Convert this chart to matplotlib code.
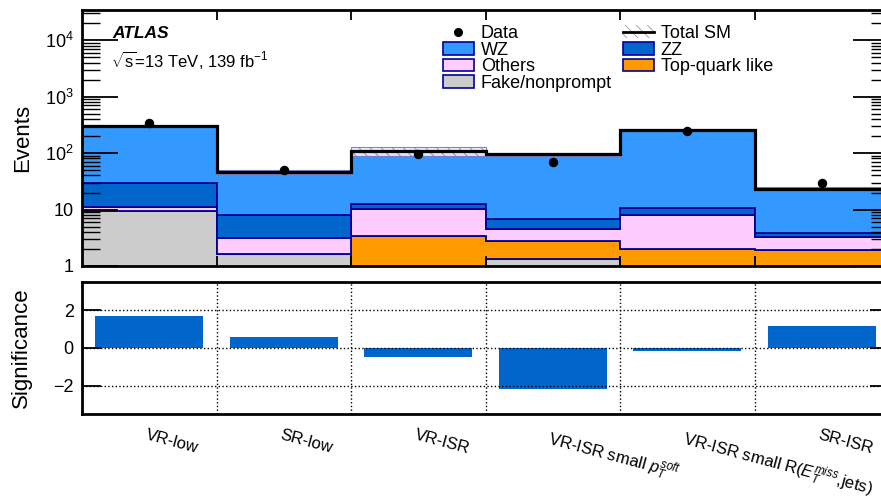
import numpy as np
import matplotlib
matplotlib.use("Agg")
from matplotlib import pyplot as plt
from matplotlib.patches import Patch
from matplotlib.lines import Line2D
from matplotlib.ticker import FixedLocator, LogLocator, NullFormatter

plt.rcParams['font.family'] = ['Liberation Sans', 'DejaVu Sans']
plt.rcParams['mathtext.fontset'] = 'custom'
plt.rcParams['mathtext.rm'] = 'Liberation Sans'
plt.rcParams['mathtext.it'] = 'Liberation Sans:italic'
plt.rcParams['mathtext.bf'] = 'Liberation Sans:bold'

regions = ["VR-low", "SR-low", "VR-ISR", r"VR-ISR small $p_T^{soft}$",
           r"VR-ISR small R($E_T^{miss}$,jets)", "SR-ISR"]

fake = [9.4, 1.63, 0.0, 1.33, 0.0, 0.0]
topq = [0.0, 0.0, 3.4, 1.44, 1.97, 1.92]
others = [1.8, 1.5, 6.8, 1.73, 6.0, 1.35]
zz = [17.9, 4.9, 2.3, 2.3, 2.8, 0.53]
wz = [271.0, 38.0, 95.5, 89.0, 244.0, 19.2]
unc = [0.05, 0.07, 0.18, 0.06, 0.05, 0.07]
data = [340, 50, 96, 70, 248, 29.4]
signif = [1.71, 0.56, -0.47, -2.15, -0.16, 1.19]

c_wz = '#3399ff'
c_zz = '#0066cc'
c_oth = '#ffccff'
c_fake = '#cccccc'
c_top = '#ff9900'
c_edge = '#000099'

edges = np.arange(len(regions) + 1)
centers = edges[:-1] + 0.5

fig = plt.figure(figsize=(8.81, 5.03), dpi=100)
W, H = 881.0, 503.0
ax = fig.add_axes([82 / W, 1 - 266 / H, 807 / W, 256 / H])
ax2 = fig.add_axes([82 / W, 1 - 414 / H, 807 / W, 132 / H])

# stack, bottom to top
comps = [(fake, c_fake), (topq, c_top), (others, c_oth), (zz, c_zz), (wz, c_wz)]
low = np.zeros(len(regions))
for vals, col in comps:
    high = low + np.array(vals)
    ax.stairs(high, edges, baseline=np.maximum(low, 0.1), fill=True,
              facecolor=col, edgecolor=c_edge, linewidth=1.3)
    low = high
total = low

band_up = total * (1 + np.array(unc))
band_dn = total * (1 - np.array(unc))
plt.rcParams['hatch.linewidth'] = 0.6
ax.stairs(band_up, edges, baseline=band_dn, fill=True, facecolor='#eeeeff',
          edgecolor='#7777bb', hatch='\\\\\\', linewidth=0.8, alpha=0.9)
ax.stairs(total, edges, baseline=None, color='black', linewidth=2.3)
ax.plot(centers, data, 'o', color='black', markersize=5.8)

ax.set_yscale('log')
ax.set_ylim(1, 3.4e4)
ax.set_xlim(0, len(regions))
ax.yaxis.set_major_locator(FixedLocator([1, 10, 100, 1000, 10000]))
ax.set_yticklabels(['1', '10', '$10^{2}$', '$10^{3}$', '$10^{4}$'])
ax.yaxis.set_minor_locator(LogLocator(base=10, subs=np.arange(2, 10)))
ax.yaxis.set_minor_formatter(NullFormatter())
ax.set_xticks(edges[1:-1])
ax.set_xticklabels([])
ax.tick_params(axis='y', which='major', direction='in', length=26, width=1.3,
               right=True, labelsize=13, pad=6)
ax.tick_params(axis='y', which='minor', direction='in', length=13, width=1.0,
               right=True)
ax.tick_params(axis='x', direction='in', length=7, width=1.3, top=True)
for s in ax.spines.values():
    s.set_linewidth(2)
ax.set_ylabel('Events', fontsize=16)
ax.yaxis.set_label_coords(-0.061, 0.5)

ax.text(112 / W, 1 - 33 / H, 'ATLAS', transform=fig.transFigure, fontsize=12.5,
        fontweight='bold', fontstyle='italic', va='center', ha='left')
ax.text(111 / W, 1 - 60 / H, r'$\sqrt{\mathrm{s}}$=13 TeV, 139 fb$^{\mathrm{-1}}$',
        transform=fig.transFigure, fontsize=12, va='center', ha='left')

handles = [
    Line2D([], [], marker='o', color='black', linestyle='none', markersize=5.5),
    Patch(facecolor=c_wz, edgecolor=c_edge, linewidth=1.2),
    Patch(facecolor=c_oth, edgecolor=c_edge, linewidth=1.2),
    Patch(facecolor=c_fake, edgecolor=c_edge, linewidth=1.2),
    (Patch(facecolor='white', edgecolor='#999999', hatch='\\\\\\', linewidth=0),
     Line2D([], [], color='black', linewidth=2)),
    Patch(facecolor=c_zz, edgecolor=c_edge, linewidth=1.2),
    Patch(facecolor=c_top, edgecolor=c_edge, linewidth=1.2),
]
labels = ['Data', 'WZ', 'Others', 'Fake/nonprompt', 'Total SM', 'ZZ', 'Top-quark like']
ax.legend(handles, labels, ncol=2, loc='upper left', frameon=False,
          bbox_to_anchor=((443 - 82) / 807, (266 - 25) / 256), borderaxespad=0,
          borderpad=0, fontsize=13, labelspacing=-0.02, handlelength=1.7,
          handleheight=0.7, handletextpad=0.4, columnspacing=0.6)

# significance panel
ax2.bar(centers, signif, width=0.8, color=c_zz)
ax2.set_xlim(0, len(regions))
ax2.set_ylim(-3.5, 3.5)
ax2.set_yticks([-2, 0, 2])
ax2.set_yticklabels(['\u22122', '0', '2'])
ax2.set_xticks(edges[1:-1])
ax2.set_xticklabels([])
ax2.grid(True, linestyle=':', color='black', linewidth=1.0)
ax2.set_axisbelow(False)
ax2.tick_params(axis='y', direction='in', length=14, width=1.3, right=True,
                labelsize=13, pad=6)
ax2.tick_params(axis='x', direction='in', length=0)
for s in ax2.spines.values():
    s.set_linewidth(2)
ax2.set_ylabel('Significance', fontsize=16)
ax2.yaxis.set_label_coords(-0.062, 0.5)

for xc, lab in zip(centers, regions):
    ax2.text(xc - 0.01, -0.10, lab, transform=ax2.get_xaxis_transform(),
             rotation=-15, rotation_mode='anchor', ha='left', va='top',
             fontsize=12)

fig.savefig('out.png', dpi=100)
